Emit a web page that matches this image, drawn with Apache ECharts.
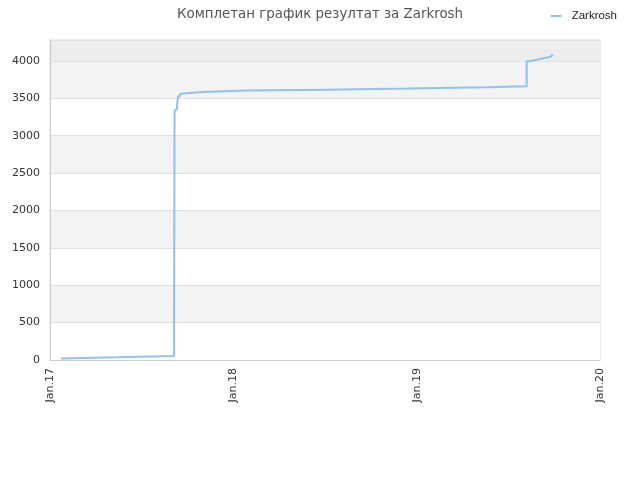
<!DOCTYPE html>
<html>
<head>
<meta charset="utf-8">
<script src="https://cdn.jsdelivr.net/npm/echarts@6/dist/echarts.min.js"></script>
<style>html,body{margin:0;padding:0;background:#fff}#c{width:640px;height:480px}</style>
</head>
<body>
<div id="c"></div>
<script>
var titleText = 'Комплетан график резултат за Zarkrosh';
var seriesName = 'Zarkrosh';
var dates = ['2017-01-23','2017-01-25','2017-05-16','2017-09-05','2017-09-06','2017-09-09','2017-09-11','2017-09-13','2017-09-17','2017-09-19','2017-10-05','2017-10-29','2018-01-28','2018-07-06','2018-12-12','2019-05-20','2019-08-08','2019-08-15','2019-08-25','2019-09-04','2019-09-13','2019-09-23','2019-09-28'];
var values = [20,37,55,580,3335,3358,3415,3527,3560,3572,3585,3603,3616,3630,3647,3660,3995,4013,4027,4040,4053,4075,4093];
var xTicks = ['2017-01-01','2018-01-01','2019-01-01','2020-01-01'];
var xTickLabels = ['Jan.17','Jan.18','Jan.19','Jan.20'];
var yMax = 4280;
var yInterval = 500;

function ts(d){ return Date.UTC(+d.slice(0,4), +d.slice(5,7)-1, +d.slice(8,10)); }
// stepped path: hold previous value until the next date, then jump
var data = [];
dates.forEach(function(d,i){
  var t = ts(d);
  if (i > 0) data.push([t, values[i-1]]);
  data.push([t, values[i]]);
});
var tickVals = xTicks.map(ts);
var bandColors = ['#ffffff','#f3f3f3','#ffffff','#f3f3f3','#ffffff','#f3f3f3','#ffffff','#f3f3f3','#ededed'];

var chart = echarts.init(document.getElementById('c'));
chart.setOption({
  animation: false,
  title: {
    text: titleText, left: 'center', top: 3,
    textStyle: {fontFamily: 'DejaVu Sans', fontSize: 13.4, fontWeight: 'normal', color: '#555'}
  },
  legend: {
    right: 18, top: 5, itemWidth: 11, itemHeight: 2, itemGap: 10,
    icon: 'rect',
    textStyle: {fontFamily: 'Liberation Sans', fontSize: 11.5, color: '#222', padding: [0, 0, 0, 5]},
    data: [seriesName]
  },
  grid: {left: 50, right: 40, top: 40, bottom: 120, show: true, borderColor: '#dddddd', borderWidth: 1, backgroundColor: 'transparent'},
  xAxis: {
    type: 'value',
    min: tickVals[0], max: tickVals[tickVals.length-1],
    axisLine: {lineStyle: {color: '#cccccc'}},
    axisTick: {show: false},
    splitLine: {show: false},
    axisLabel: {
      rotate: 90, fontFamily: 'DejaVu Sans', fontSize: 11, color: '#333', margin: 8,
      customValues: tickVals,
      formatter: function(v){
        for (var i=0;i<tickVals.length;i++){ if (Math.abs(tickVals[i] - v) < 86400000) return xTickLabels[i]; }
        return '';
      }
    }
  },
  yAxis: {
    type: 'value', min: 0, max: yMax, interval: yInterval,
    axisLine: {show: true, lineStyle: {color: '#cccccc'}},
    axisTick: {show: false},
    axisLabel: {fontFamily: 'DejaVu Sans', fontSize: 11, color: '#333', margin: 10, showMaxLabel: false,
      formatter: function(v){ return String(v); }},
    splitLine: {show: true, lineStyle: {color: '#e0e0e0'}},
    splitArea: {show: true, areaStyle: {color: bandColors}}
  },
  series: [{
    name: seriesName, type: 'line', data: data,
    showSymbol: false, symbol: 'none',
    lineStyle: {color: '#8fc1f2', width: 2},
    itemStyle: {color: '#8fc1f2'}
  }]
});
</script>
</body>
</html>
